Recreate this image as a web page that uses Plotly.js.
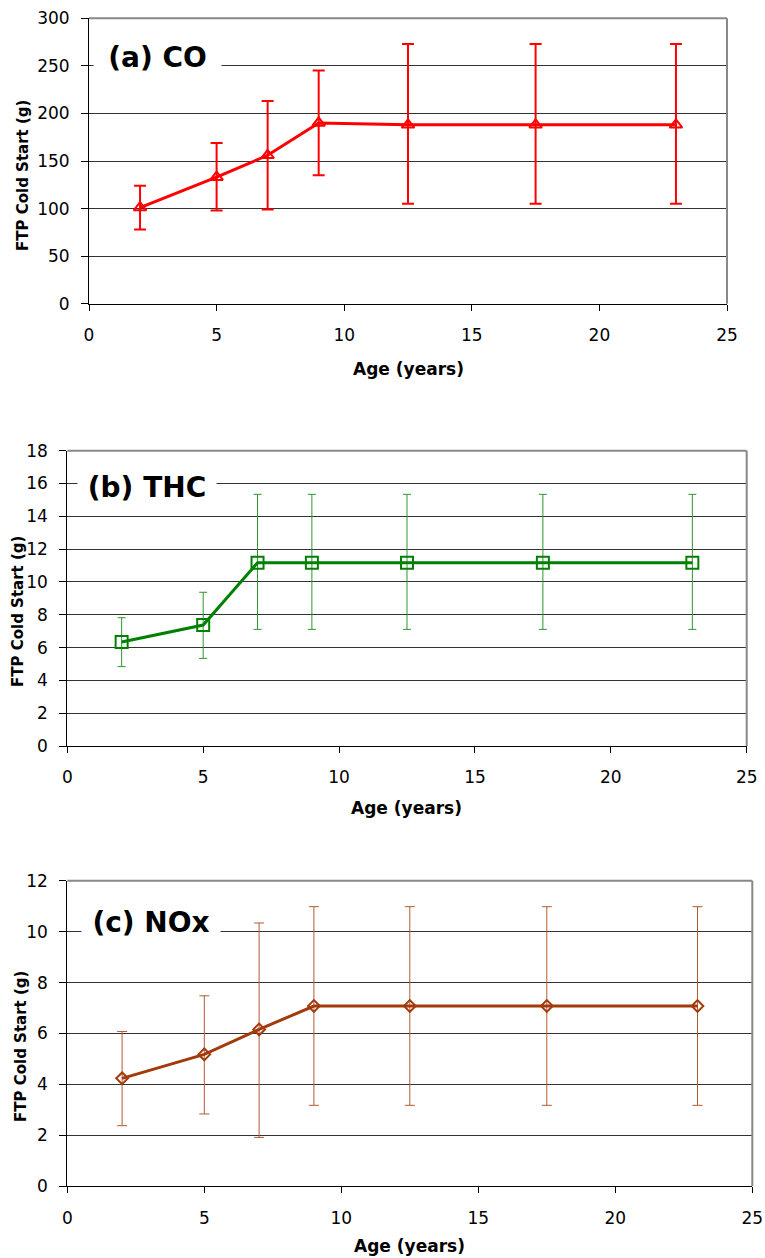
<!DOCTYPE html>
<html>
<head>
<meta charset="utf-8">
<script src="https://cdn.plot.ly/plotly-3.0.1.min.js"></script>
<style>html,body{margin:0;padding:0;background:#fff;}#chart{width:765px;height:1258px;}</style>
</head>
<body>
<div id="chart"></div>
<script>
// ---- data ----
var age = [2, 5, 7, 9, 12.5, 17.5, 23];

var coMean  = [101, 133, 156, 190, 188, 188, 188];
var coUpper = [124, 169, 213, 245, 273, 273, 273];
var coLower = [78, 98, 99, 135, 105, 105, 105];

var thcMean  = [6.34, 7.37, 11.17, 11.17, 11.17, 11.17, 11.17];
var thcUpper = [7.82, 9.37, 15.34, 15.34, 15.34, 15.34, 15.34];
var thcLower = [4.84, 5.34, 7.11, 7.11, 7.11, 7.11, 7.11];

var noxMean  = [4.24, 5.18, 6.16, 7.08, 7.08, 7.08, 7.08];
var noxUpper = [6.08, 7.48, 10.34, 10.98, 10.98, 10.98, 10.98];
var noxLower = [2.38, 2.84, 1.92, 3.18, 3.18, 3.18, 3.18];

var panelTitles = ['(a) CO', '(b) THC', '(c) NOx'];
var xTitle = 'Age (years)';
var yTitle = 'FTP Cold Start (g)';

// ---- helpers ----
var W = 765, H = 1258;
function px(x) { return x / W; }
function py(y) { return 1 - y / H; }
function diff(a, b) { return a.map(function (v, i) { return v - b[i]; }); }

function trace(mean, upper, lower, color, errColor, symbol, msize, errW, capW, xa, ya) {
  return {
    x: age, y: mean, type: 'scatter', mode: 'lines+markers',
    xaxis: xa, yaxis: ya,
    line: {color: color, width: 3},
    marker: {symbol: symbol, size: msize, color: color, line: {color: color, width: 2}},
    error_y: {type: 'data', symmetric: false, array: diff(upper, mean), arrayminus: diff(mean, lower),
              color: errColor, thickness: errW, width: capW},
    showlegend: false, hoverinfo: 'skip'
  };
}

var data = [
  trace(coMean, coUpper, coLower, '#FF0000', '#FF0000', 'triangle-up-open', 11, 2, 6, 'x', 'y'),
  trace(thcMean, thcUpper, thcLower, '#008000', '#2E962E', 'square-open', 12, 1, 4, 'x2', 'y2'),
  trace(noxMean, noxUpper, noxLower, '#A33A0B', '#B45A32', 'diamond-open', 9, 1, 5, 'x3', 'y3')
];

var tickFont = {family: 'DejaVu Sans', size: 17, color: '#000'};
function xax(dom, anchor) {
  return {domain: dom, anchor: anchor, range: [0, 25], dtick: 5, tick0: 0,
          showline: true, linecolor: '#000', linewidth: 1, ticks: 'outside', ticklen: 6,
          tickcolor: '#000', showgrid: false, zeroline: false, tickfont: tickFont,
          ticklabelstandoff: 10, fixedrange: true};
}
function yax(dom, anchor, max, dt) {
  return {domain: dom, anchor: anchor, range: [0, max], dtick: dt, tick0: 0,
          showline: true, linecolor: '#000', linewidth: 1, ticks: 'outside', ticklen: 7,
          tickcolor: '#000', showgrid: true, gridcolor: '#333', gridwidth: 1, zeroline: false,
          tickfont: tickFont, ticklabelstandoff: 8, fixedrange: true};
}

// plot-area pixel boxes [left, right, top, bottom]
var boxes = [[89, 727, 18.3, 303.7], [67.3, 746.7, 450.7, 746], [67.3, 752.3, 880.7, 1186.3]];

var layout = {
  width: W, height: H, margin: {l: 0, r: 0, t: 0, b: 0},
  paper_bgcolor: '#fff', plot_bgcolor: '#fff', showlegend: false,
  xaxis: xax([px(boxes[0][0]), px(boxes[0][1])], 'y'),
  yaxis: yax([py(boxes[0][3]), py(boxes[0][2])], 'x', 300, 50),
  xaxis2: xax([px(boxes[1][0]), px(boxes[1][1])], 'y2'),
  yaxis2: yax([py(boxes[1][3]), py(boxes[1][2])], 'x2', 18, 2),
  xaxis3: xax([px(boxes[2][0]), px(boxes[2][1])], 'y3'),
  yaxis3: yax([py(boxes[2][3]), py(boxes[2][2])], 'x3', 12, 2),
  shapes: [],
  annotations: []
};

// gray top/right border
['', '2', '3'].forEach(function (s) {
  var xr = 'x' + s + ' domain', yr = 'y' + s + ' domain';
  layout.shapes.push({type: 'line', xref: xr, yref: yr, x0: 0, x1: 1, y0: 1, y1: 1, line: {color: '#888', width: 2}});
  layout.shapes.push({type: 'line', xref: xr, yref: yr, x0: 1, x1: 1, y0: 0, y1: 1, line: {color: '#888', width: 2}});
});

// panel titles (with white box over gridline)
var titlePos = [[157, 57, 125], [147, 487, 136], [151, 922, 136]];
titlePos.forEach(function (p, i) {
  layout.annotations.push({text: '<b>' + panelTitles[i] + '</b>', xref: 'paper', yref: 'paper',
    x: px(p[0]), y: py(p[1]), xanchor: 'center', yanchor: 'middle', showarrow: false,
    font: {family: 'DejaVu Sans', size: 28, color: '#000'}, bgcolor: '#fff', width: p[2], height: 36});
});

// axis titles
var xTitlePos = [[408, 369], [406, 808], [409, 1246]];
xTitlePos.forEach(function (p) {
  layout.annotations.push({text: '<b>' + xTitle + '</b>', xref: 'paper', yref: 'paper',
    x: px(p[0]), y: py(p[1]), xanchor: 'center', yanchor: 'middle', showarrow: false,
    font: {family: 'DejaVu Sans', size: 17, color: '#000'}});
});
var yTitlePos = [[23, 176], [18, 612], [21, 1047]];
yTitlePos.forEach(function (p) {
  layout.annotations.push({text: '<b>' + yTitle + '</b>', xref: 'paper', yref: 'paper',
    x: px(p[0]), y: py(p[1]), xanchor: 'center', yanchor: 'middle', showarrow: false, textangle: -90,
    font: {family: 'DejaVu Sans', size: 15, color: '#000'}});
});

Plotly.newPlot('chart', data, layout, {staticPlot: true, displayModeBar: false});
</script>
</body>
</html>
